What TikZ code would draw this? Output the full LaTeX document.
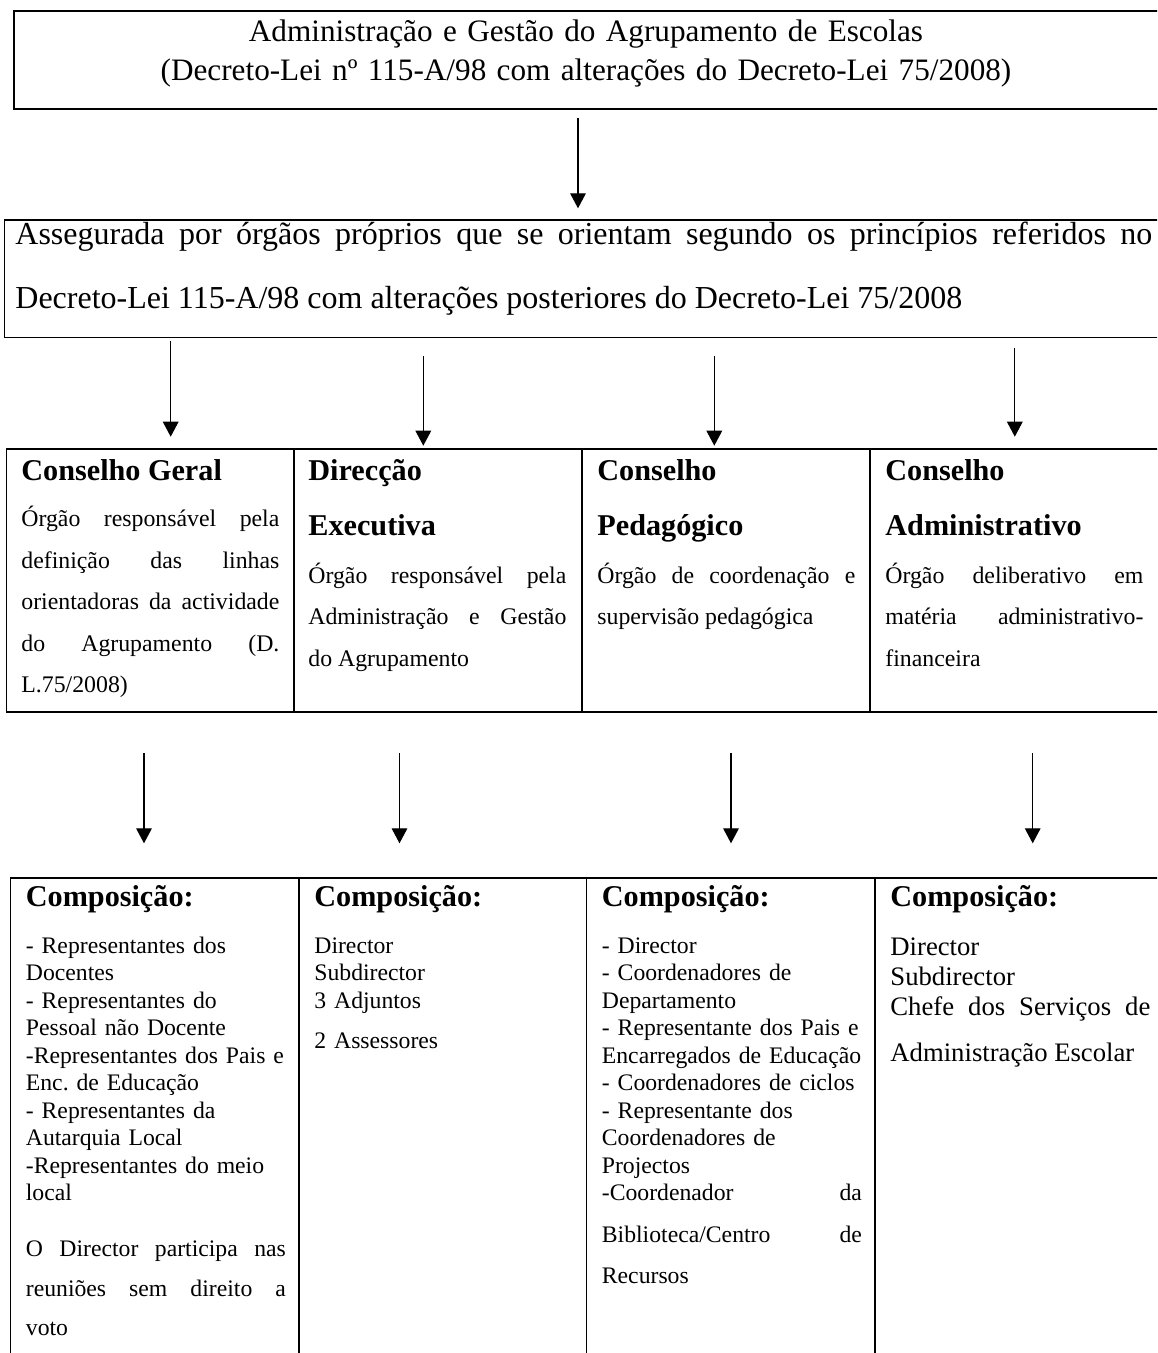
\documentclass[tikz,border=0pt]{standalone}
\usepackage{fontspec}
\setmainfont{Liberation Serif}
\usetikzlibrary{arrows.meta}
\frenchspacing

\newcommand\orgtitle{\fontsize{15.6}{19.35}\selectfont}
\newcommand\orgintro{\fontsize{16}{32}\selectfont}
\newcommand\orghead{\fontsize{15.1}{27.5}\selectfont\bfseries}
\newcommand\orgbody{\fontsize{11.9}{20.75}\selectfont}
\newcommand\orglist{\fontsize{11.85}{13.75}\selectfont}
\newcommand\orgvote{\fontsize{11.85}{19.8}\selectfont}
\newcommand\orgnote{\fontsize{11.85}{20.65}\selectfont}
\newcommand\orgbig{\fontsize{13.35}{15.2}\selectfont}
\newcommand\orgchefe{\fontsize{13.35}{23.35}\selectfont}

\begin{document}
\begin{tikzpicture}[x=0.5pt,y=-0.5pt,
  frame/.style={line width=0.8pt},
  arr/.style={line width=0.65pt,-{Triangle[width=7.8pt,length=7.5pt]}},
  cell/.style={anchor=base west,inner sep=0pt,text width=129pt,align=justify},
  lst/.style={anchor=base west,inner sep=0pt,text width=145pt,align=left}]
\useasboundingbox (0.000000, 0.000000) rectangle (1157.000000, 1353.000000);
\fill[color=white] (0.000000, 0.000000) rectangle (1157.000000, 1353.000000);
\clip (0.000000, 0.000000) rectangle (1157.000000, 1353.000000);
% Drawing boxes
% Line 1: title box
\draw[frame] (14.000000, 11.000000) rectangle (1160.000000, 109.000000);
% Line 2: intro box
\draw[frame] (4.500000, 220.000000) rectangle (1162.000000, 337.700000);
% Line 3: organs table
\draw[frame] (6.500000, 449.000000) rectangle (1158.500000, 711.700000);
\foreach \x in {294.000000, 581.700000, 869.700000}
  \draw[frame] (\x, 449.000000) -- (\x, 711.700000);
% Line 4: composition table (open at the bottom)
\draw[frame] (10.500000, 1365.000000) -- (10.500000, 877.700000) -- (1163.500000, 877.700000);
\foreach \x in {299.000000, 586.500000, 875.000000}
  \draw[frame] (\x, 877.700000) -- (\x, 1365.000000);
% Done with boxes; drawing texts
\node[anchor=base,inner sep=0pt,text width=440pt,align=center,font=\orgtitle] (title) at (586.000000, 42.000000)
  {Administração e Gestão do Agrupamento de Escolas\\(Decreto-Lei nº 115-A/98 com alterações do Decreto-Lei 75/2008)};
\node[cell,text width=568.5pt,font=\orgintro] (intro) at (15.000000, 245.000000)
  {Assegurada por órgãos próprios que se orientam segundo os princípios referidos no\linebreak Decreto-Lei 115-A/98 com alterações posteriores do Decreto-Lei 75/2008};
% Line 5: organs
\node[cell,font=\orghead] (geral-head) at (21.000000, 480.000000) {Conselho Geral};
\node[cell,font=\orgbody] (geral-body) at (21.000000, 526.500000)
  {Órgão responsável pela\linebreak definição das linhas\linebreak orientadoras da actividade\linebreak do Agrupamento (D.\linebreak L.75/2008)};
\node[cell,font=\orghead] (direc-head) at (308.000000, 480.000000) {Direcção\\Executiva};
\node[cell,font=\orgbody] (direc-body) at (308.000000, 583.000000)
  {Órgão responsável pela\linebreak Administração e Gestão\linebreak do Agrupamento};
\node[cell,font=\orghead] (pedag-head) at (597.000000, 480.000000) {Conselho\\Pedagógico};
\node[cell,font=\orgbody] (pedag-body) at (597.000000, 583.000000)
  {Órgão de coordenação e\linebreak supervisão pedagógica};
\node[cell,font=\orghead] (admin-head) at (885.000000, 480.000000) {Conselho\\Administrativo};
\node[cell,font=\orgbody] (admin-body) at (885.000000, 583.000000)
  {Órgão deliberativo em\linebreak matéria administrativo-\linebreak financeira};
% Line 6: compositions
\node[lst,font=\orghead] (geral-comp) at (25.500000, 906.000000) {Composição:};
\node[lst,font=\orglist] (geral-list) at (25.500000, 953.300000)
  {- Representantes dos\\Docentes\\- Representantes do\\Pessoal não Docente\\-Representantes dos Pais e\\Enc. de Educação\\- Representantes da\\Autarquia Local\\-Representantes do meio\\local};
\node[cell,text width=130pt,font=\orgvote] (geral-note) at (25.500000, 1256.700000)
  {O Director participa nas\linebreak reuniões sem direito a\linebreak voto};
\node[lst,font=\orghead] (direc-comp) at (314.000000, 906.000000) {Composição:};
\node[lst,font=\orglist] (direc-list) at (314.000000, 953.300000)
  {Director\\Subdirector\\3 Adjuntos\\[6.25pt]2 Assessores};
\node[lst,font=\orghead] (pedag-comp) at (601.500000, 906.000000) {Composição:};
\node[lst,font=\orglist] (pedag-list) at (601.500000, 953.300000)
  {- Director\\- Coordenadores de\\Departamento\\- Representante dos Pais e\\Encarregados de Educação\\- Coordenadores de ciclos\\- Representante dos\\Coordenadores de\\Projectos};
\node[cell,text width=130pt,font=\orgnote] (pedag-note) at (601.500000, 1200.700000)
  {-Coordenador da\linebreak Biblioteca/Centro de\linebreak Recursos};
\node[lst,font=\orghead] (admin-comp) at (890.000000, 906.000000) {Composição:};
\node[lst,font=\orgbig] (admin-list) at (890.000000, 955.000000) {Director\\Subdirector};
\node[cell,text width=130pt,font=\orgchefe] (admin-note) at (890.000000, 1015.000000)
  {Chefe dos Serviços de\linebreak Administração Escolar};
% Done with texts; drawing arrows
\coordinate (title-out) at (578.000000, 118.000000);
\coordinate (intro-in) at (578.000000, 208.300000);
\draw[arr] (title-out) -- (intro-in);
\foreach \n/\x/\ya/\yb in {geral/170.700000/341.000000/436.700000, direc/423.300000/356.000000/445.700000,
    pedag/714.300000/356.000000/445.700000, admin/1014.800000/347.700000/436.700000} {
  \coordinate (\n-from) at (\x, \ya);
  \coordinate (\n-to) at (\x, \yb);
  \draw[arr] (\n-from) -- (\n-to);
}
\foreach \n/\x in {geral/144.000000, direc/399.500000, pedag/731.000000, admin/1032.700000} {
  \coordinate (\n-down) at (\x, 753.000000);
  \coordinate (\n-comp-in) at (\x, 843.300000);
  \draw[arr] (\n-down) -- (\n-comp-in);
}
% Done with arrows
\end{tikzpicture}
\end{document}
